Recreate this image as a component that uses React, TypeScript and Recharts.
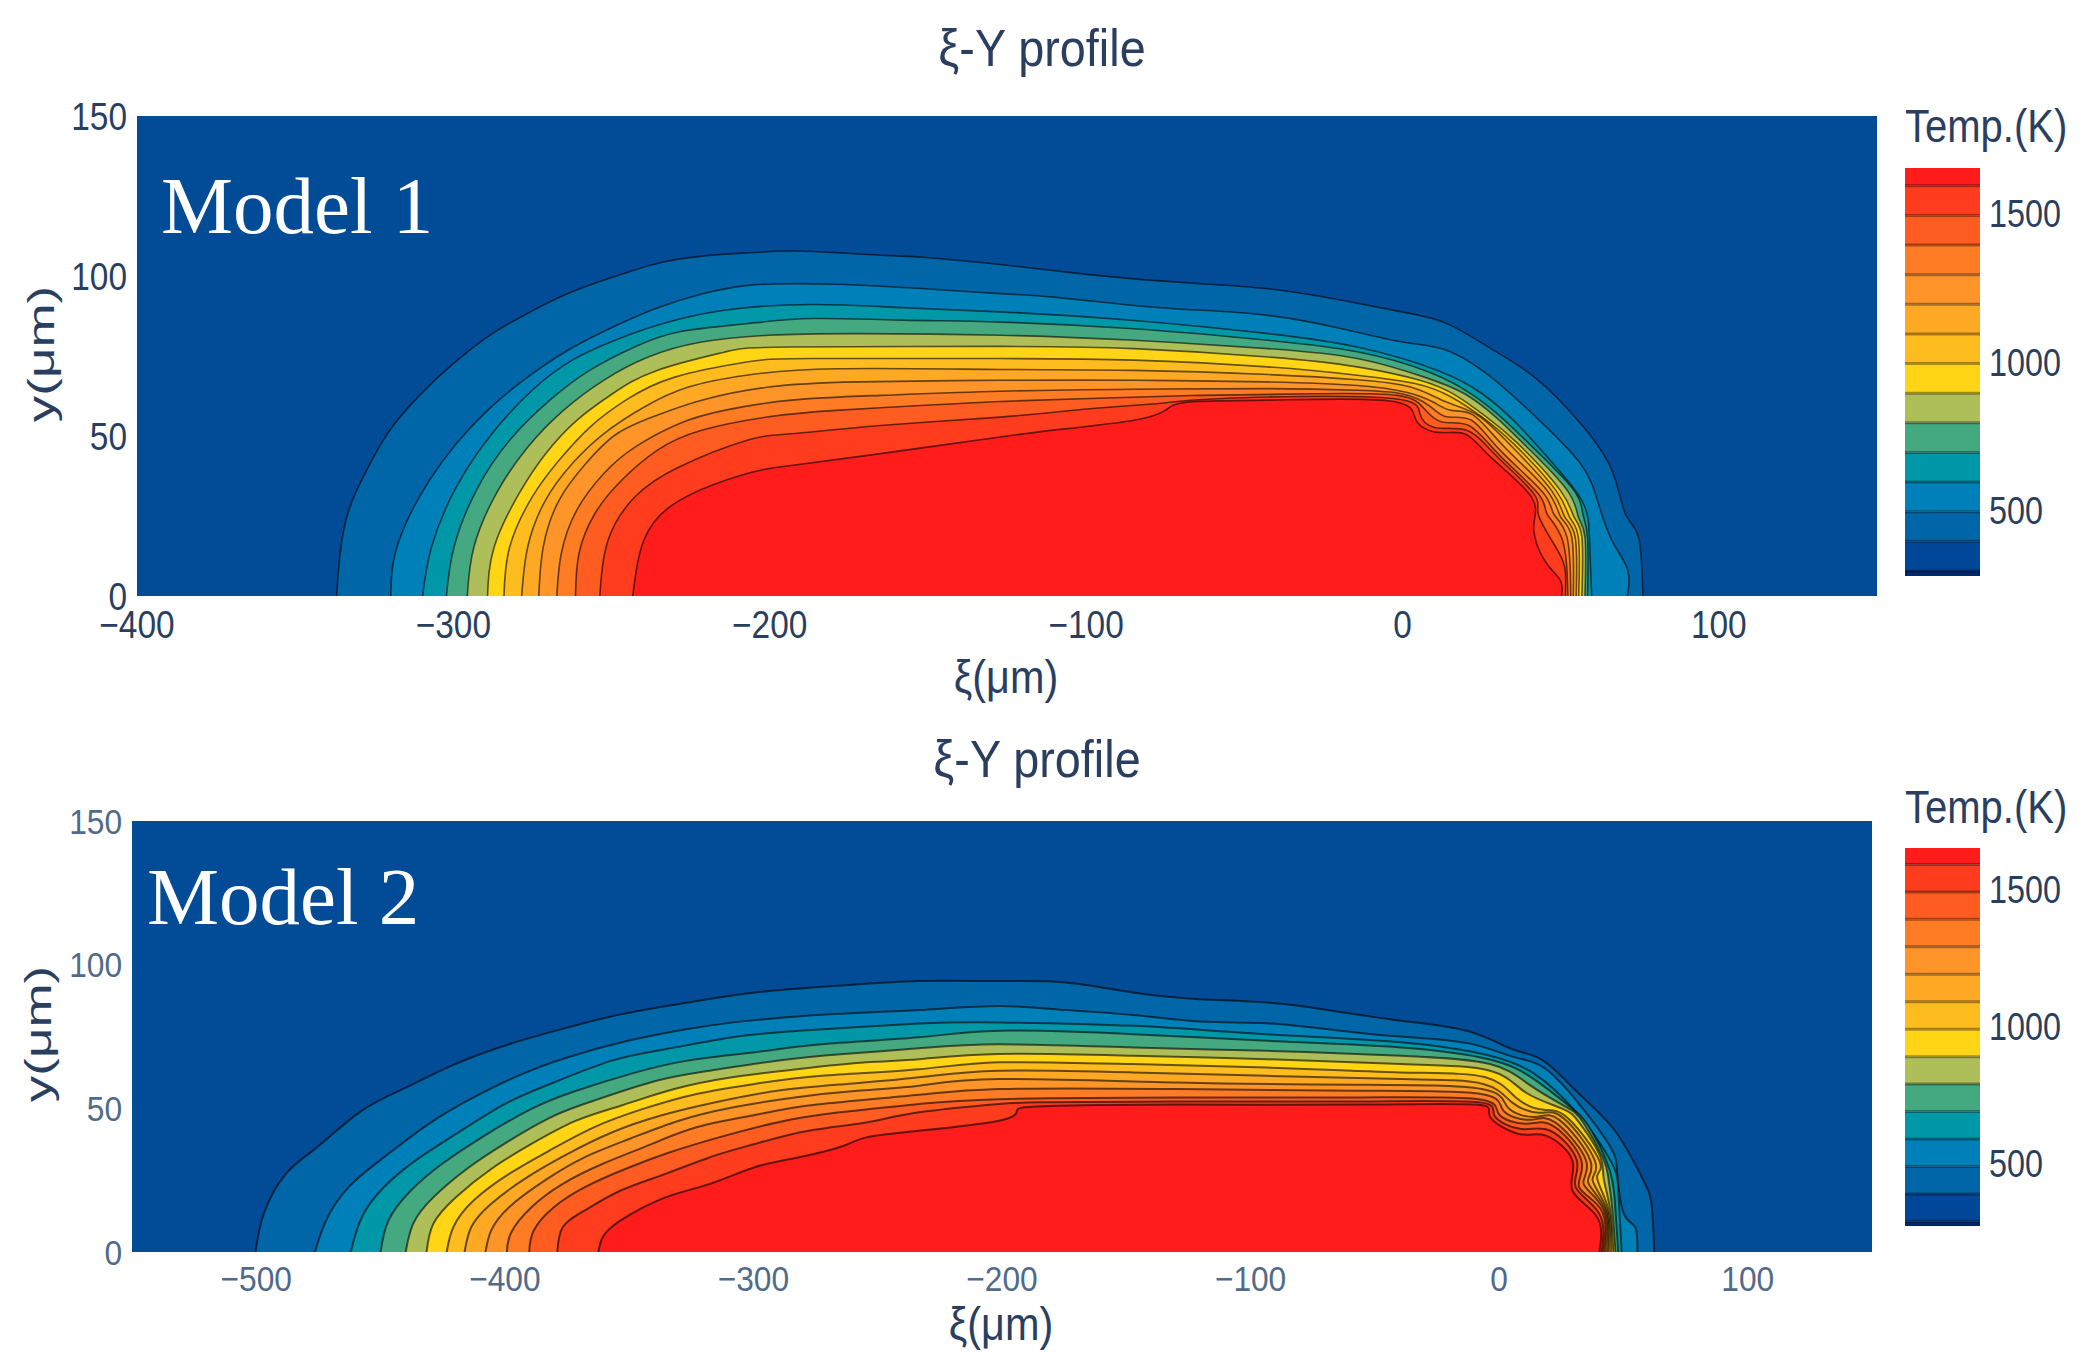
import React from "react";
import { ComposedChart, Area, XAxis, YAxis, Bar, ReferenceLine } from "recharts";

const FILL_COLORS = ["#0066a8", "#0080b8", "#0098a8", "#44a880", "#aebe58", "#ffd515", "#ffbc1e", "#ffa824", "#ff9528", "#ff7c24", "#ff5c22", "#ff3c1e", "#ff1c1a"];
const BG = "#024b96";
const TEMP_BANDS = [283, 17, 100, 100, 100, 100, 100, 100, 100, 100, 100, 100, 100, 100, 100, 60];
const TEMP_COLORS = ["none", "#00266e", "#00479a", ...FILL_COLORS];
const TEMP_LEVELS = [300, 400, 500, 600, 700, 800, 900, 1000, 1100, 1200, 1300, 1400, 1500, 1600];
const TEMP_TICKS = [500, 1000, 1500];
const Y_TICKS = [0, 50, 100, 150];
const X_TICKS_1 = [-400, -300, -200, -100, 0, 100];
const X_TICKS_2 = [-500, -400, -300, -200, -100, 0, 100];

const m1c1 = [[-336.9,0],[-335.8,13.2],[-333,27],[-327.3,39.5],[-320.3,51.5],[-310.4,63],[-300.5,72.2],[-289.2,81],[-277.9,87.6],[-263.8,94.5],[-249.7,99.6],[-235.6,103.9],[-221.5,106.2],[-207.4,107.2],[-193.2,107.8],[-179.1,107.3],[-165,106.5],[-150.9,105.8],[-127.2,103.6],[-106,101.2],[-84.9,99.1],[-63.7,97.6],[-42.5,96],[-21.3,92.8],[-0.2,88.8],[13.9,85.2],[28,77.3],[42.2,68],[56.3,53.9],[66.2,39.3],[70.4,25.7],[74.6,18.4],[76,0]];
const m1c2 = [[-319.8,0],[-318.9,11.1],[-314.6,23.6],[-307.6,36.1],[-299.1,47.6],[-289.2,58],[-277.9,67.4],[-263.8,76.8],[-249.7,84],[-235.6,90],[-221.5,94.4],[-207.4,97],[-193.2,97.6],[-179.1,97.4],[-165,96.8],[-150.9,96],[-127.2,94.5],[-110.3,93.4],[-84.9,90.8],[-63.7,89.3],[-42.5,87.7],[-21.3,84],[-0.2,79.4],[13.9,76.8],[28,68.4],[42.2,55.9],[56.3,41.3],[61.9,29],[66.2,17.4],[71.1,8.4],[71.1,0]];
const m1c3 = [[-309.7,0],[-306.9,15.3],[-299.1,34],[-287.8,50.7],[-275.1,64.3],[-262.4,73.7],[-249.7,79.6],[-235.6,84.6],[-214.4,89.3],[-186.2,91.1],[-157.9,90.1],[-127.2,88.8],[-84.9,86.1],[-42.5,82],[-14.3,77.8],[11.1,70.5],[25.2,63.2],[35.1,54.9],[45,44.3],[56.3,30.5],[59.1,18.4],[59.8,0]];
const m1c4 = [[-302.2,0],[-299.8,15.3],[-292.7,33.1],[-282.2,48.7],[-269.5,61.2],[-256.8,70.6],[-242.6,77.9],[-228.5,82.6],[-207.4,85.1],[-186.2,86.7],[-157.9,86.2],[-127.2,85.6],[-84.9,83.5],[-42.5,79.9],[-14.3,76.3],[8.3,70],[22.4,62.7],[32.3,54.9],[42.2,45.5],[54.2,33],[57,25.7],[58.5,18.4],[58.5,0]];
const m1c5 = [[-295.6,0],[-293.5,15.3],[-286.4,32.1],[-276.5,46.5],[-265.2,58],[-252.5,67.4],[-238.4,74.7],[-221.5,79.4],[-200.3,81.5],[-172.1,82],[-127.2,81.5],[-84.9,79.9],[-42.5,77.3],[-14.3,74.2],[6.9,68.4],[19.6,63.2],[29.5,55.9],[39.4,46.5],[52.1,33],[55.6,24.7],[57.7,18.4],[57.7,0]];
const m1c6 = [[-289.2,0],[-287.1,15.3],[-279.3,31.9],[-270.9,44.4],[-261,54.9],[-249.7,63.2],[-235.6,70.5],[-214.4,76.2],[-193.2,77.8],[-127.2,78],[-84.9,77.3],[-42.5,74.7],[-14.3,71.6],[5.5,67.4],[16.8,62.7],[26.6,55.9],[36.5,47.6],[49.9,33],[54.2,24.7],[56.7,18.4],[56.7,0]];
const m1c7 = [[-284,0],[-282.2,15.3],[-275.1,30.9],[-266.6,42.4],[-256.8,52.8],[-245.5,61.2],[-230,68.4],[-207.4,73.1],[-186.2,74.2],[-127.2,74.2],[-84.9,73.7],[-42.5,71.6],[-14.3,69],[4,66.4],[15.4,62.2],[25.2,55.9],[35.1,47.6],[48.5,33],[52.8,24.7],[55.6,18.4],[55.7,0]];
const m1c8 = [[-278.4,0],[-276.5,15.3],[-270.9,29.9],[-262.4,41.4],[-252.5,50.7],[-239.8,59],[-225.7,65.3],[-207.4,69],[-179.1,71],[-127.2,70.8],[-84.9,70.5],[-42.5,69.2],[-14.3,67.6],[2.6,65.3],[13.9,60.6],[23.8,56.5],[33.7,47.6],[47.1,33],[51.3,24.7],[54.6,18.4],[54.9,0]];
const m1c9 = [[-273,0],[-271.6,15.3],[-266.6,29.9],[-258.2,41.3],[-248.3,50.7],[-235.6,56.5],[-221.5,61.2],[-200.3,65.3],[-172.1,66.9],[-127.2,67.4],[-84.9,67.4],[-42.5,66.9],[-14.3,65.8],[1.2,63.7],[9.7,60.6],[15.4,58],[22.4,56.5],[32.3,46.5],[45.7,33],[50,24.7],[53.5,18.4],[54,0]];
const m1c10 = [[-267.3,0],[-265.9,13.2],[-261,26.8],[-252.5,38.2],[-242.6,46.5],[-228.5,53.9],[-214.4,58],[-193.2,61.2],[-165,62.7],[-127.2,64],[-84.9,64.6],[-42.5,64.8],[-14.3,64.3],[-0.2,63.2],[8.3,59.6],[13.9,56],[21.7,55],[30.9,45.5],[44.3,32.5],[47.8,25.7],[52,18.4],[53.2,0]];
const m1c11 = [[-261.4,0],[-260.3,13.2],[-255.3,25.7],[-246.9,36.1],[-235.6,45.5],[-221.5,51.8],[-200.3,56],[-179.1,58],[-150.9,59.6],[-127.2,60.8],[-99,61.7],[-63.7,62.7],[-28.4,63.2],[-1.6,62.7],[6.9,58.5],[12.5,54.4],[21,53.3],[30.2,44.5],[42.9,32],[45.7,25.7],[50.6,17.4],[52.3,0]];
const m1c12 = [[-253.7,0],[-251.1,17.4],[-242.6,31],[-228.5,40.4],[-207.4,48.6],[-193.2,50.7],[-165,53.3],[-127.2,55.9],[-99,58.5],[-77.8,60.1],[-68,61.1],[-42.5,62.2],[-3,61.7],[5.5,57],[10.4,52.6],[20.3,51.8],[29.5,44],[41.5,32],[42.9,25.7],[47.8,16.4],[51.3,9],[51.5,0]];
const m1c13 = [[-243.3,0],[-239.8,17.4],[-228.5,29.9],[-207.4,38.2],[-193.2,40.8],[-165,44.5],[-127.2,49.7],[-106,52.3],[-84.9,54.9],[-75,58],[-68,60.6],[-42.5,61.2],[-4.4,61],[4.1,55.4],[10.4,51.2],[19.6,50.7],[28,43.3],[40.8,30.9],[41.5,21.4],[45,11],[49.9,4.9],[50.3,0]];

const m2c1 = [[-500.3,0],[-497,13.3],[-488.1,27.2],[-475.5,36.5],[-457.5,49.2],[-439.6,57.3],[-421.6,64.8],[-398.3,72.3],[-374.9,78.1],[-353.4,82.7],[-326.5,86.8],[-299.5,90.3],[-267.2,92.6],[-233.4,94.3],[-201.2,94.3],[-174.3,93.8],[-147.3,90.3],[-120.4,88],[-93.5,86.8],[-66.5,83.9],[-39.6,80.5],[-12.7,76.9],[5.3,70.6],[17.9,66.5],[32.2,55],[46.6,42.2],[57.4,26],[61.3,16.7],[62.4,0]];
const m2c2 = [[-476.4,0],[-471.9,11],[-462.9,22.6],[-448.6,33],[-430.6,44.6],[-412.6,53.8],[-392.9,62],[-374.9,67.7],[-353.4,72.9],[-326.5,77.6],[-299.5,80.7],[-267.2,82.8],[-233.4,84.2],[-201.2,85.6],[-174.3,84.2],[-147.3,82.5],[-120.4,80.2],[-93.5,79.6],[-66.5,77.3],[-39.6,75],[-12.7,72.7],[5.3,68],[17.9,64.2],[32.2,51.5],[44.8,36.5],[47.5,27.3],[50.2,13.3],[54.7,8.7],[55.6,0]];
const m2c3 = [[-462,0],[-457.5,12.2],[-448.6,22.6],[-436,31.8],[-419.8,41],[-400.1,51.5],[-380.3,59],[-357,66.6],[-335.4,70.6],[-308.5,74.7],[-281.6,77],[-233.4,79.5],[-201.2,79.9],[-147.3,78.7],[-93.5,75.8],[-39.6,73],[-3.7,68.3],[14.3,61.9],[30.4,49.2],[44.8,31.8],[48,20.3],[49.3,0]];
const m2c4 = [[-450,0],[-446.8,11],[-437.8,21.4],[-425.2,30.7],[-409.1,40],[-389.3,49.8],[-371.3,56.1],[-349.8,61.9],[-326.5,66.6],[-299.5,69.5],[-272.6,72.3],[-233.4,74.7],[-201.2,77],[-147.3,75.8],[-93.5,73.5],[-39.6,71.2],[-3.7,67],[14.3,60],[28.6,50.5],[35.8,44],[43,32],[45.7,24],[46.6,17],[47.9,0]];
const m2c5 = [[-439.9,0],[-436.9,9.8],[-428.8,19],[-414.4,29.5],[-398.3,38.7],[-380.3,47.4],[-362.4,53.2],[-339,59.6],[-317.5,63.1],[-290.5,66.6],[-263.6,68.9],[-233.4,70.9],[-201.2,72.3],[-147.3,71.2],[-93.5,70],[-39.6,68.3],[-3.7,65.4],[12.5,58],[26.9,50.5],[33.9,45],[41.6,33],[43.9,26],[45.4,16],[46.8,0]];
const m2c6 = [[-431.5,0],[-428.8,9.8],[-419.8,19],[-405.5,28.9],[-389.3,37.6],[-371.3,45.7],[-353.4,50.9],[-331.8,56.7],[-308.5,60.8],[-281.6,63.7],[-254.6,66],[-233.4,67.1],[-201.2,68.9],[-147.3,68.3],[-93.5,67.1],[-39.6,65.4],[-3.7,63.1],[10.7,55.5],[25.1,50],[32.2,45],[40.3,34],[42,26],[44.6,15],[45.9,0]];
const m2c7 = [[-423.4,0],[-420.7,8.7],[-412.6,17.9],[-398.3,27.2],[-382.1,35.3],[-364.2,43.4],[-344.4,49.8],[-322.9,55],[-299.5,58.5],[-272.6,61.3],[-233.4,63.6],[-201.2,66],[-147.3,65.4],[-93.5,64.2],[-39.6,62.5],[-5.5,60.8],[7.1,53.5],[17.9,49.5],[27.8,46.5],[40.3,31.8],[39.4,26],[43.9,15],[45,0]];
const m2c8 = [[-416.2,0],[-413.5,8.7],[-405.5,16.8],[-391.1,26],[-374.9,34.1],[-357,41.6],[-337.2,47.5],[-315.7,52],[-290.5,56.1],[-263.6,58.4],[-233.4,60.8],[-201.2,63.1],[-147.3,62.5],[-93.5,61.3],[-39.6,60.2],[-6.4,58.5],[5.3,52],[16.1,48.5],[26,46.5],[38.5,31.8],[37.6,25],[43.2,15],[44.1,0]];
const m2c9 = [[-407.8,0],[-405.5,7.5],[-398.3,15.6],[-383.9,24.9],[-367.8,33],[-349.8,39.4],[-330,45.7],[-308.5,50.3],[-283.4,53.8],[-258.2,56.1],[-233.4,57.9],[-201.2,60.2],[-129.4,59],[-57.5,58.2],[-6.9,56.7],[3.5,50.3],[14.3,47],[24.2,46],[36.7,31.8],[35.8,24.3],[42.6,15],[43.4,0]];
const m2c10 = [[-399.2,0],[-397.4,6.9],[-389.3,15.6],[-376.7,23.7],[-360.6,30.7],[-342.6,37],[-322.9,43.4],[-299.5,47.7],[-274.4,51.3],[-233.4,54.7],[-201.2,56.7],[-129.4,56.7],[-57.5,56.1],[-7.3,55],[1.7,49.2],[12.5,46],[22.4,45.2],[35,31.8],[34,23.7],[41.9,15],[42.6,0]];
const m2c11 = [[-390.2,0],[-388.4,7.5],[-380.3,15.6],[-367.8,22.6],[-351.6,28.9],[-333.6,34.7],[-313.9,39.9],[-290.5,45.1],[-265.4,48.6],[-233.4,51.5],[-201.2,53.2],[-129.4,53.8],[-57.5,53.8],[-8.2,53.2],[-0.1,48],[10.7,44.6],[21.5,44],[33.1,31.8],[32.2,22.6],[41.2,14.5],[41.9,0]];
const m2c12 = [[-378.9,0],[-376.7,8.7],[-367.8,14.5],[-353.4,21.4],[-335.4,27.2],[-317.5,33],[-299.5,37.6],[-277.9,42.2],[-254.6,45.1],[-233.4,48.6],[-201.2,51.5],[-183.2,52.1],[-129.4,52.4],[-57.5,52.4],[-8.2,52.1],[-1.9,47.5],[8.9,42.8],[20.6,42.2],[31.3,31.8],[30.8,22.6],[40.3,13.3],[41.2,0]];
const m2c13 = [[-362.4,0],[-360.6,5.2],[-353.4,11],[-335.4,19],[-317.5,23.7],[-299.5,29.5],[-281.6,33],[-263.6,37],[-254.6,39.9],[-233.4,42.2],[-201.2,45.7],[-194,49.2],[-183.2,50.7],[-129.4,51.3],[-57.5,51.3],[-9.1,51.3],[-3.7,47.2],[8,41.1],[18.8,40.5],[29.5,31.8],[29.5,21.4],[39.4,12.2],[40.3,0]];

const CONTOURS_1 = [m1c1, m1c2, m1c3, m1c4, m1c5, m1c6, m1c7, m1c8, m1c9, m1c10, m1c11, m1c12, m1c13];
const CONTOURS_2 = [m2c1, m2c2, m2c3, m2c4, m2c5, m2c6, m2c7, m2c8, m2c9, m2c10, m2c11, m2c12, m2c13];

const SANS = "'Liberation Sans', sans-serif";
const rows = (pts: number[][]) => pts.map(([x, y]) => ({ x, y }));
const fmt = (v: number) => String(v).replace("-", "\u2212");

// Tick label squeezed horizontally, as in the reference.
function squeezedTick(fill: string, size: number, anchor: string, dy: string | number, sx = 0.88) {
  return (props: any) => (
    <text transform={`translate(${props.x} ${props.y}) scale(${sx} 1)`} textAnchor={anchor} dy={dy}
      fontSize={size} fontFamily={SANS} fill={fill}>{fmt(props.payload.value)}</text>
  );
}

function SqueezedText({ x, y, size, sx, anchor, fill, children }: any) {
  return (
    <text transform={`translate(${x} ${y}) scale(${sx} 1)`} textAnchor={anchor} fontSize={size} fontFamily={SANS} fill={fill}>{children}</text>
  );
}

type PanelProps = {
  top: number; height: number; left: number; right: number; plotTop: number; bottomH: number;
  domain: number[]; xTicks: number[]; contours: number[][][]; tickColor: string; tickMargin: number;
  tickSize: number; title: number[]; xLabel: number[]; yLabel: number[]; model: string; modelPos: number[]; tempPos: number[]; lineW: number;
};

function Panel(p: PanelProps) {
  return (
    <div style={{ position: "absolute", left: 0, top: p.top }}>
      <ComposedChart width={2086} height={p.height} margin={{ top: p.plotTop, right: p.right, bottom: 0, left: 0 }}>
        <XAxis type="number" dataKey="x" domain={p.domain} ticks={p.xTicks} allowDataOverflow interval={0} height={p.bottomH}
          axisLine={false} tickLine={false} tick={squeezedTick(p.tickColor, p.tickSize, "middle", ".71em")} tickMargin={p.tickMargin} />
        <YAxis type="number" domain={[0, 150]} ticks={Y_TICKS} allowDataOverflow width={p.left} interval={0}
          axisLine={false} tickLine={false} tick={squeezedTick(p.tickColor, p.tickSize, "end", ".355em")} tickMargin={4} />
        <Area data={rows([[p.domain[0], 150], [p.domain[1], 150]])} dataKey="y" type="linear" fill={BG} fillOpacity={1} stroke="none" isAnimationActive={false} dot={false} activeDot={false} />
        {p.contours.map((c, i) => (
          <Area key={i} data={rows(c)} dataKey="y" type="natural" fill={FILL_COLORS[i]} fillOpacity={1}
            stroke="rgba(0,0,0,0.6)" strokeWidth={p.lineW} isAnimationActive={false} dot={false} activeDot={false} />
        ))}
        <SqueezedText x={p.title[0]} y={p.title[1]} size={52} sx={0.9} anchor="middle" fill="#2a3f5f">ξ-Y profile</SqueezedText>
        <SqueezedText x={p.xLabel[0]} y={p.xLabel[1]} size={46} sx={0.9} anchor="middle" fill="#2a3f5f">ξ(μm)</SqueezedText>
        <text transform={`translate(${p.yLabel[0]} ${p.yLabel[1]}) rotate(-90) scale(1 0.7)`} textAnchor="middle" fontSize={53} fontFamily={SANS} fill="#2a3f5f">y(μm)</text>
        <SqueezedText x={p.tempPos[0]} y={p.tempPos[1]} size={46} sx={0.87} anchor="start" fill="#2a3f5f">Temp.(K)</SqueezedText>
      </ComposedChart>
      <svg width={2086} height={p.height} style={{ position: "absolute", left: 0, top: 0, pointerEvents: "none" }}>
        <text x={p.modelPos[0]} y={p.modelPos[1]} fontSize={81} fontFamily="'Liberation Serif', serif" fill="#ffffff">{p.model}</text>
      </svg>
    </div>
  );
}

function ColorBar({ top, height, dy }: { top: number; height: number; dy: number }) {
  const row: Record<string, number | string> = { name: "T" };
  TEMP_BANDS.forEach((v, i) => { row["b" + i] = v; });
  return (
    <div style={{ position: "absolute", left: 1905, top }}>
      <ComposedChart width={181} height={height} data={[row]} margin={{ top: 0, right: 0, bottom: 0, left: 0 }} barCategoryGap={0}>
        <XAxis dataKey="name" hide />
        <YAxis orientation="right" width={106} type="number" domain={[283, 1660]} ticks={TEMP_TICKS} allowDataOverflow interval={0}
          axisLine={false} tickLine={false} tickMargin={3} tick={squeezedTick("#2a3f5f", 39, "start", dy, 0.83)} />
        {TEMP_BANDS.map((_, i) => (
          <Bar key={i} dataKey={"b" + i} stackId="t" fill={TEMP_COLORS[i]} isAnimationActive={false} />
        ))}
        {TEMP_LEVELS.map((l) => (
          <ReferenceLine key={l} y={l} stroke="rgba(0,0,0,0.35)" strokeWidth={3} />
        ))}
      </ComposedChart>
    </div>
  );
}

export default function App() {
  return (
    <div style={{ position: "absolute", left: 0, top: 0, width: 2086, height: 1371, background: "#fff", overflow: "hidden" }}>
      <Panel top={690} height={681} left={132} right={214} plotTop={131} bottomH={119} domain={[-550, 150]} xTicks={X_TICKS_2}
        contours={CONTOURS_2} tickColor="#506a8a" tickMargin={7} tickSize={36} title={[1037, 87]} xLabel={[1001, 650]} yLabel={[51, 344]}
        model="Model 2" modelPos={[147, 234]} tempPos={[1905, 133]} lineW={2} />
      <Panel top={0} height={704} left={137} right={209} plotTop={116} bottomH={108} domain={[-400, 150]} xTicks={X_TICKS_1}
        contours={CONTOURS_1} tickColor="#2a3f5f" tickMargin={9} tickSize={38} title={[1042, 66]} xLabel={[1006, 693]} yLabel={[54, 354]}
        model="Model 1" modelPos={[161, 233]} tempPos={[1905, 142]} lineW={1.6} />
      <ColorBar top={168} height={408} dy={12} />
      <ColorBar top={848} height={378} dy={11} />
    </div>
  );
}
